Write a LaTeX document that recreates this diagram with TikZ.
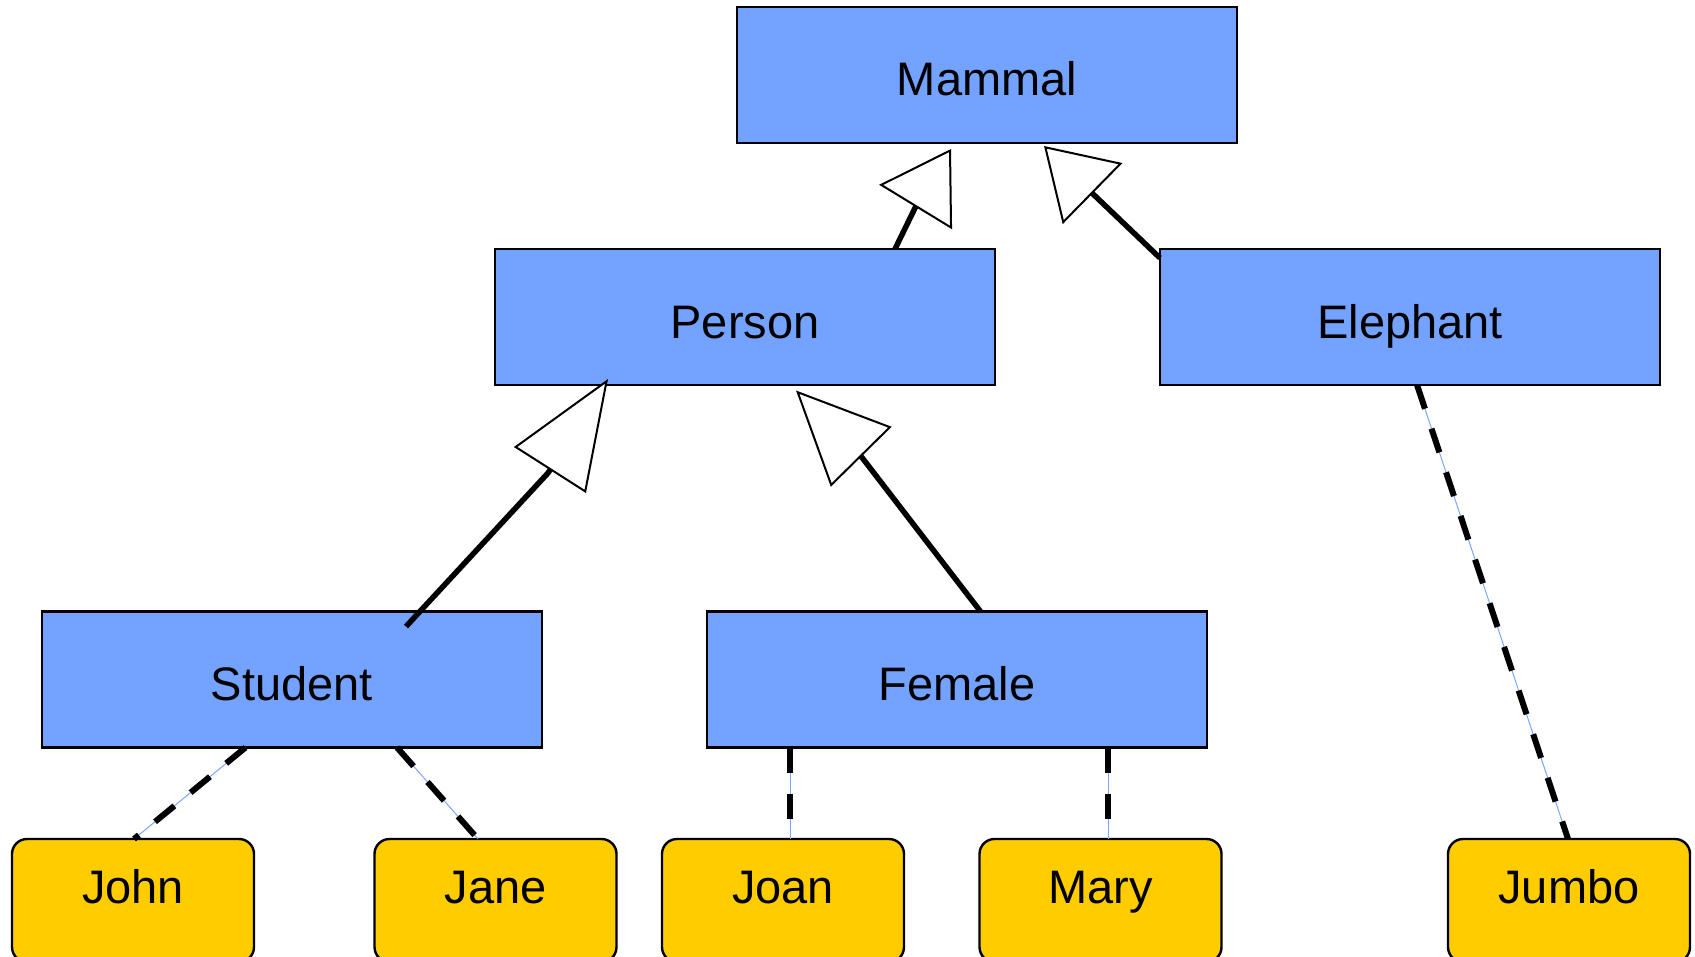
\documentclass[tikz,border=0pt]{standalone}
\usepackage{fontspec}
\setmainfont{Liberation Sans}
\usetikzlibrary{arrows.meta, calc}
\definecolor{classblue}{RGB}{116,163,255}
\definecolor{objyellow}{RGB}{255,204,0}
\definecolor{linkblue}{RGB}{125,165,255}
\begin{document}
\begin{tikzpicture}[x=0.5pt, y=-0.5pt,
    class/.style={draw, line width=1.2pt, fill=classblue, inner sep=0pt, outer sep=0pt,
      minimum width=250pt, text height=44.5pt, text depth=23.5pt,
      font=\fontsize{23.5pt}{28pt}\selectfont},
    object/.style={draw, line width=1.2pt, fill=objyellow, rounded corners=7.5pt, inner sep=0pt,
      outer sep=0pt, minimum width=121pt, text height=32pt, text depth=29.5pt,
      font=\fontsize{23.5pt}{28pt}\selectfont},
    isa/.style={line width=2.75pt, line join=round,
      -{Triangle[fill=white, line width=1pt, length=#1, width=42.5pt]}},
    instance/.style={line width=3pt, dash pattern=on 12.5pt off 10.5pt,
      preaction={draw=linkblue, line width=0.5pt, solid}}]
  \path[use as bounding box, clip] (0, 0) rectangle (1695, 957);
  % classes
  \node[class] (mammal) at (987, 75) {Mammal};
  \node[class] (person) at (745, 317) {Person};
  \node[class] (elephant) at (1410, 317) {Elephant};
  \node[class] (student) at (292, 679.5) {Student};
  \node[class] (female) at (957, 679.5) {Female};
  % objects
  \foreach \id/\txt/\x in {john/John/133, jane/Jane/495.5, joan/Joan/783, mary/Mary/1100.5, jumbo/Jumbo/1569} {
    \node[object] (\id) at (\x, 900.5) {\txt};
  }
  % generalisation
  \draw[isa=34pt] ($(person.north west)+(400, 0)$) -- ($(mammal.south west)+(178, 65)$) -- ($(mammal.south west)+(214, 6)$);
  \draw[isa=34pt] ($(elephant.north west)+(0, 9)$) -- ($(mammal.south west)+(356, 51)$) -- ($(mammal.south west)+(307, 3)$);
  \draw[isa=54pt] ($(student.north west)+(364, 15)$) -- ($(person.south west)+(53, 88)$) -- ($(person.south west)+(113, -6)$);
  \draw[isa=46.5pt] ($(female.north west)+(273.5, 0)$) -- ($(person.south west)+(367, 72.5)$) -- ($(person.south west)+(301, 5.5)$);
  % instances
  \draw[instance] ($(student.south west)+(203.5, 0)$) -- ($(john.north west)+(122, 0)$);
  \draw[instance] ($(student.south west)+(355, 0)$) -- ($(jane.north west)+(103.5, 0)$);
  \draw[instance] ($(female.south west)+(83, 0)$) -- ($(joan.north west)+(128, 0)$);
  \draw[instance] ($(female.south west)+(401, 0)$) -- ($(mary.north west)+(128.5, 0)$);
  \draw[instance] ($(elephant.south west)+(257, 0)$) -- ($(jumbo.north west)+(120, 0)$);
\end{tikzpicture}
\end{document}
